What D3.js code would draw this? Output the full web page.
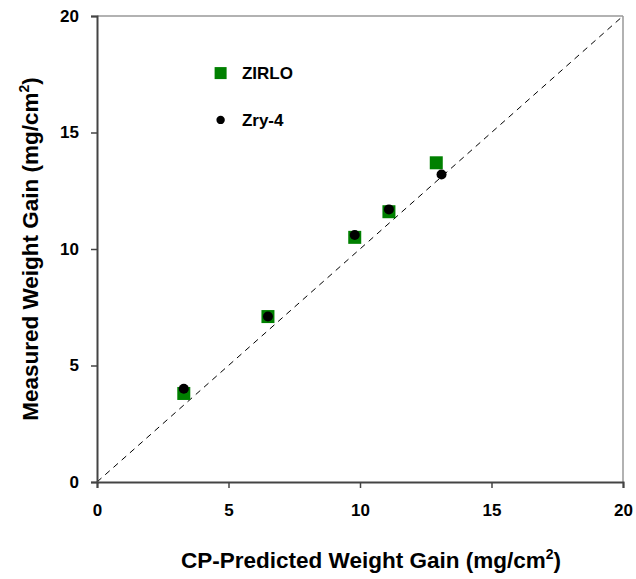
<!DOCTYPE html>
<html>
<head>
<meta charset="utf-8">
<script src="https://cdn.jsdelivr.net/npm/d3@7"></script>
<style>
  body { margin: 0; background: #fff; }
  text { font-family: "Liberation Sans", Arial, sans-serif; font-weight: bold; }
</style>
</head>
<body>
<svg id="chart" width="636" height="579"></svg>
<script>
var ticks = [0, 5, 10, 15, 20];
var zirloX = [3.3, 6.5, 9.8, 11.1, 12.9];
var zirloY = [3.8, 7.1, 10.5, 11.6, 13.7];
var zryX = [3.3, 6.5, 9.8, 11.1, 13.1];
var zryY = [4.0, 7.1, 10.6, 11.7, 13.2];
var seriesNames = ["ZIRLO", "Zry-4"];

var svg = d3.select("#chart"),
    margin = {top: 16, right: 13, bottom: 97, left: 97},
    width = +svg.attr("width") - margin.left - margin.right,
    height = +svg.attr("height") - margin.top - margin.bottom;

var chart = svg.append("g").attr("transform", "translate(" + margin.left + "," + margin.top + ")");

var x = d3.scaleLinear().domain([0, 20]).range([0, width]);
var y = d3.scaleLinear().domain([0, 20]).range([height, 0]);

// frame top/right
chart.append("line").attr("x1", 0).attr("x2", width).attr("y1", 0).attr("y2", 0)
    .attr("stroke", "#999").attr("stroke-width", 1.5);
chart.append("line").attr("x1", width).attr("x2", width).attr("y1", 0).attr("y2", height)
    .attr("stroke", "#999").attr("stroke-width", 1.5);

// 1:1 line
chart.append("line")
    .attr("x1", x(0)).attr("y1", y(0)).attr("x2", x(20)).attr("y2", y(20))
    .attr("stroke", "#000").attr("stroke-width", 1)
    .attr("stroke-dasharray", "6,5");

var xAxis = chart.append("g")
    .attr("transform", "translate(0," + height + ")")
    .call(d3.axisBottom(x).tickValues(ticks).tickSize(6).tickPadding(16));
var yAxis = chart.append("g")
    .call(d3.axisLeft(y).tickValues(ticks).tickSize(6).tickPadding(12));

[xAxis, yAxis].forEach(function(a) {
  a.select(".domain").attr("stroke", "#444").attr("stroke-width", 2);
  a.selectAll(".tick line").attr("stroke", "#444").attr("stroke-width", 1.5);
  a.selectAll(".tick text").attr("fill", "#000").style("font-size", "17px");
});

// points
chart.selectAll(".sq").data(zirloX).enter().append("rect")
    .attr("class", "sq")
    .attr("x", function(d) { return x(d) - 6.5; })
    .attr("y", function(d, i) { return y(zirloY[i]) - 6.5; })
    .attr("width", 13).attr("height", 13)
    .attr("fill", "#008000");

chart.selectAll(".dot").data(zryX).enter().append("circle")
    .attr("class", "dot")
    .attr("cx", function(d) { return x(d); })
    .attr("cy", function(d, i) { return y(zryY[i]); })
    .attr("r", 5)
    .attr("fill", "#000");

// legend
var legend = chart.append("g");
legend.append("rect").attr("x", x(4.7) - 6).attr("y", y(17.55) - 6)
    .attr("width", 12).attr("height", 12).attr("fill", "#008000");
legend.append("text").attr("x", x(5.51)).attr("y", y(17.55)).attr("dy", "0.35em")
    .style("font-size", "17px").text(seriesNames[0]);
legend.append("circle").attr("cx", x(4.7)).attr("cy", y(15.54)).attr("r", 4.2).attr("fill", "#000");
legend.append("text").attr("x", x(5.51)).attr("y", y(15.54)).attr("dy", "0.35em")
    .style("font-size", "17px").text(seriesNames[1]);

// axis titles
var xt = svg.append("text")
    .attr("x", 371).attr("y", 568)
    .attr("text-anchor", "middle").style("font-size", "22.5px");
xt.append("tspan").text("CP-Predicted Weight Gain (mg/cm");
xt.append("tspan").attr("dy", "-9").style("font-size", "14px").text("2");
xt.append("tspan").attr("dy", "9").text(")");

var yt = svg.append("text")
    .attr("transform", "translate(38," + (margin.top + height / 2) + ") rotate(-90)")
    .attr("text-anchor", "middle").style("font-size", "22.5px");
yt.append("tspan").text("Measured Weight Gain (mg/cm");
yt.append("tspan").attr("dy", "-9").style("font-size", "14px").text("2");
yt.append("tspan").attr("dy", "9").text(")");
</script>
</body>
</html>
